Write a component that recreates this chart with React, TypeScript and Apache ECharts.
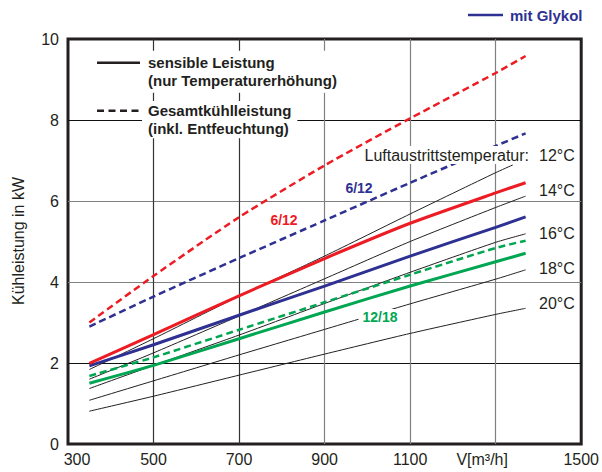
import React, { useEffect, useRef } from "react";
import * as echarts from "echarts";

// Air flow V [m³/h]
const flowX = [350, 500, 700, 900, 1100, 1300, 1370];
const flowX12 = [350, 500, 700, 900, 1100, 1300, 1340];

// 6/12 (red) – without glycol
const red612Total = [3.0, 4.15, 5.6, 6.88, 8.04, 9.16, 9.58];
const red612Sens = [1.99, 2.7, 3.66, 4.58, 5.45, 6.2, 6.45];
// 6/12 (blue) – mit Glykol
const blue612Total = [2.9, 3.64, 4.59, 5.52, 6.45, 7.36, 7.67];
const blue612Sens = [1.93, 2.45, 3.18, 3.9, 4.64, 5.35, 5.61];
// 12/18 (green)
const green1218Total = [1.68, 2.14, 2.82, 3.5, 4.18, 4.84, 5.02];
const green1218Sens = [1.5, 1.94, 2.6, 3.26, 3.9, 4.5, 4.71];
// Luftaustrittstemperatur lines
const temp12 = [1.84, 2.6, 3.65, 4.64, 5.68, 6.7, 6.89];
const temp14 = [1.6, 2.25, 3.16, 4.08, 5.0, 5.84, 6.12];
const temp16 = [1.37, 1.94, 2.69, 3.47, 4.24, 4.98, 5.19];
const temp18 = [1.08, 1.56, 2.2, 2.83, 3.46, 4.07, 4.3];
const temp20 = [0.81, 1.18, 1.7, 2.22, 2.73, 3.2, 3.35];

const tempLabels = ["12°C", "14°C", "16°C", "18°C", "20°C"];
const xUnitLabel = "V[m³/h]";
const yAxisTitle = "Kühleistung in kW";

const RED = "#ed1c24";
const BLUE = "#2e3192";
const GREEN = "#00a651";
const BLACK = "#231f20";
const FONT = '"Liberation Sans", Arial, sans-serif';

const pairs = (xs: number[], ys: number[]) => xs.map((x, i) => [x, ys[i]]);

export default function App() {
  const ref = useRef<HTMLDivElement>(null);

  useEffect(() => {
    if (!ref.current) return;
    const chart = echarts.init(ref.current, undefined, { renderer: "svg" });

    const line = (
      name: string,
      xs: number[],
      ys: number[],
      color: string,
      width: number,
      type: any
    ) => ({
      name,
      type: "line",
      data: pairs(xs, ys),
      showSymbol: false,
      symbol: "none",
      smooth: 0.2,
      lineStyle: { color, width, type },
      z: color === BLACK ? 2 : 3,
    });

    const txt = (
      text: string,
      x: number,
      y: number,
      font: string,
      fill: string,
      extra: any = {}
    ) => ({
      type: "text",
      z: 100,
      x,
      y,
      style: { text, font, fill, ...extra },
    });

    const tempY = [155, 190, 233, 268, 303];

    chart.setOption({
      animation: false,
      backgroundColor: "#ffffff",
      grid: {
        left: 68,
        right: 18,
        top: 39,
        bottom: 28,
        show: true,
        borderColor: BLACK,
        borderWidth: 3,
        backgroundColor: "transparent",
      },
      xAxis: {
        type: "value",
        min: 300,
        max: 1500,
        interval: 200,
        axisLine: { show: false },
        axisTick: { show: false },
        axisLabel: {
          color: BLACK,
          fontSize: 16,
          fontFamily: FONT,
          margin: 7,
          formatter: (v: number) => {
            if (v === 300) return "{first|300}";
            if (v === 1300) return "{unit|" + xUnitLabel + "}";
            return String(v);
          },
          rich: {
            first: { fontSize: 16, fontFamily: FONT, color: BLACK, padding: [0, 0, 0, 18] },
            unit: { fontSize: 16, fontFamily: FONT, color: BLACK, padding: [0, 27, 0, 0] },
          },
        },
        splitLine: {
          show: true,
          showMinLine: false,
          showMaxLine: false,
          lineStyle: {
            width: 1.2,
            color: ["#333333", "#333333", "#808080", "#808080", "#808080"],
          },
        },
      },
      yAxis: {
        type: "value",
        min: 0,
        max: 10,
        interval: 2,
        axisLine: { show: false },
        axisTick: { show: false },
        axisLabel: { color: BLACK, fontSize: 16, fontFamily: FONT, margin: 9 },
        splitLine: {
          show: true,
          showMinLine: false,
          showMaxLine: false,
          lineStyle: {
            width: 1.2,
            color: ["#111111", "#808080", "#808080", "#111111"],
          },
        },
      },
      series: [
        line("t20", flowX, temp20, BLACK, 1, "solid"),
        line("t18", flowX, temp18, BLACK, 1, "solid"),
        line("t16", flowX, temp16, BLACK, 1, "solid"),
        line("t14", flowX, temp14, BLACK, 1, "solid"),
        line("t12", flowX12, temp12, BLACK, 1, "solid"),
        line("g_total", flowX, green1218Total, GREEN, 2.5, [7, 4]),
        line("g_sens", flowX, green1218Sens, GREEN, 3, "solid"),
        line("b_total", flowX, blue612Total, BLUE, 2.5, [7, 4]),
        line("b_sens", flowX, blue612Sens, BLUE, 3, "solid"),
        line("r_total", flowX, red612Total, RED, 2.5, [7, 4]),
        line("r_sens", flowX, red612Sens, RED, 3, "solid"),
      ],
      graphic: [
        // mit Glykol legend
        {
          type: "line",
          z: 100,
          shape: { x1: 468, y1: 15, x2: 503, y2: 15 },
          style: { stroke: BLUE, lineWidth: 2.5 },
        },
        txt("mit Glykol", 510, 15, `bold 15px ${FONT}`, BLUE, { verticalAlign: "middle" }),
        // in-plot legend
        txt(
          "sensible Leistung\n(nur Temperaturerhöhung)",
          142,
          50.7,
          `bold 15px ${FONT}`,
          BLACK,
          { verticalAlign: "top", lineHeight: 18, backgroundColor: "#ffffff", padding: [3, 6] }
        ),
        txt(
          "Gesamtkühlleistung\n(inkl. Entfeuchtung)",
          142,
          101,
          `bold 15px ${FONT}`,
          BLACK,
          { verticalAlign: "top", lineHeight: 17.6, backgroundColor: "#ffffff", padding: [1, 6] }
        ),
        {
          type: "line",
          z: 101,
          shape: { x1: 97, y1: 62.7, x2: 140, y2: 62.7 },
          style: { stroke: BLACK, lineWidth: 2.5 },
        },
        {
          type: "line",
          z: 101,
          shape: { x1: 97, y1: 110.7, x2: 140, y2: 110.7 },
          style: { stroke: BLACK, lineWidth: 2.5, lineDash: [7, 4.5] },
        },
        // y axis title
        {
          type: "text",
          z: 100,
          x: 18,
          y: 241,
          rotation: Math.PI / 2,
          style: {
            text: yAxisTitle,
            font: `16px ${FONT}`,
            fill: BLACK,
            align: "center",
            verticalAlign: "middle",
          },
        },
        // series labels
        txt("6/12", 284, 220, `bold 14px ${FONT}`, RED, { align: "center", verticalAlign: "middle" }),
        txt("6/12", 359, 188, `bold 14px ${FONT}`, BLUE, { align: "center", verticalAlign: "middle" }),
        txt("12/18", 380, 317, `bold 14px ${FONT}`, GREEN, {
          align: "center",
          verticalAlign: "middle",
          backgroundColor: "#ffffff",
          padding: [1, 4],
        }),
        // temperature labels
        txt("Luftaustrittstemperatur:", 532, 155, `16px ${FONT}`, BLACK, {
          align: "right",
          verticalAlign: "middle",
          backgroundColor: "#ffffff",
          padding: [1, 3],
        }),
        ...tempLabels.map((t, i) =>
          txt(t, 539, tempY[i], `16px ${FONT}`, BLACK, {
            verticalAlign: "middle",
            backgroundColor: i === 0 ? "#ffffff" : "transparent",
          })
        ),
      ],
    });

    return () => chart.dispose();
  }, []);

  return (
    <div
      ref={ref}
      style={{ position: "fixed", left: 0, top: 0, width: 602, height: 472, background: "#fff" }}
    />
  );
}
